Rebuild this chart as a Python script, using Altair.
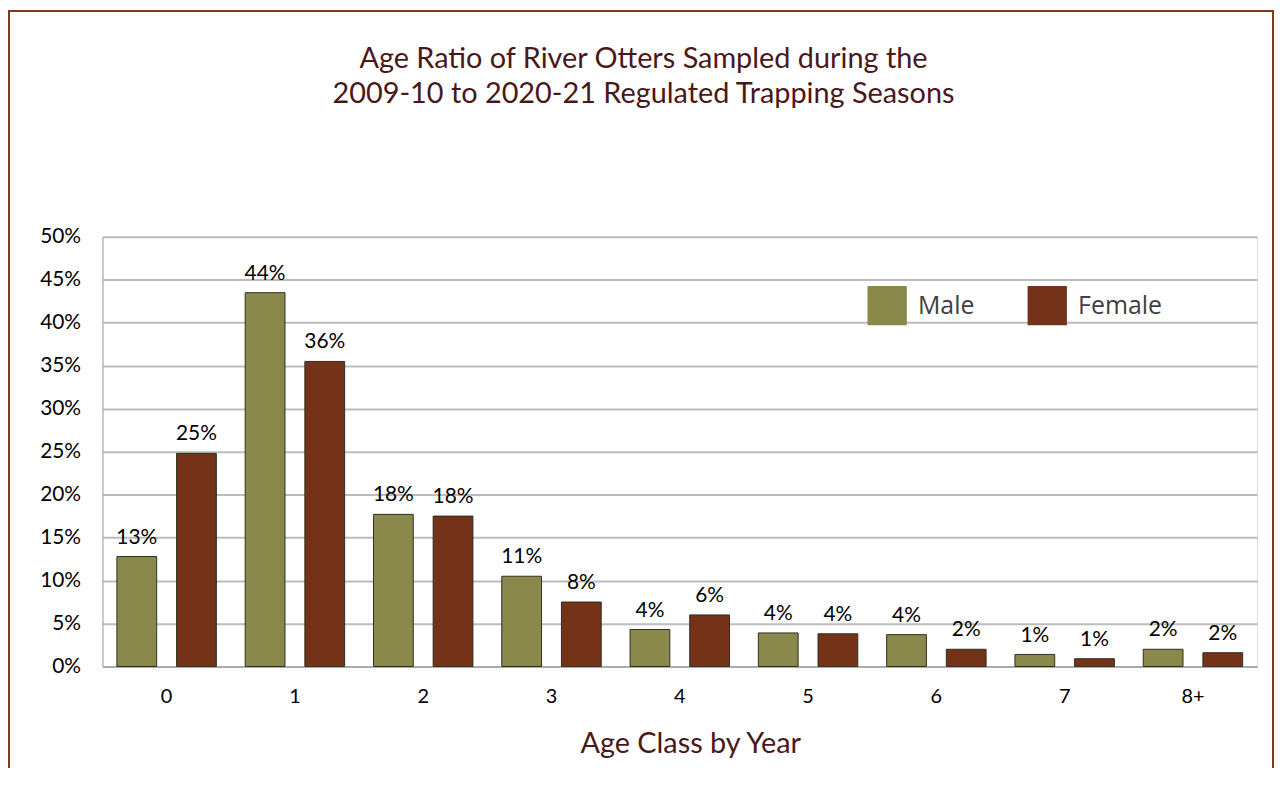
import altair as alt
import pandas as pd

ages = ["0", "1", "2", "3", "4", "5", "6", "7", "8+"]
male_pct = [12.8, 43.5, 17.7, 10.5, 4.3, 3.9, 3.7, 1.4, 2.0]
female_pct = [24.8, 35.5, 17.5, 7.5, 6.0, 3.8, 2.0, 0.9, 1.6]
male_labels = ["13%", "44%", "18%", "11%", "4%", "4%", "4%", "1%", "2%"]
female_labels = ["25%", "36%", "18%", "8%", "6%", "4%", "2%", "1%", "2%"]
sexes = ["Male", "Female"]
colors = ["#8a894b", "#743319"]
y_ticks = [0, 5, 10, 15, 20, 25, 30, 35, 40, 45, 50]
title_lines = ["Age Ratio of River Otters Sampled during the",
               "2009-10 to 2020-21 Regulated Trapping Seasons"]

rows = []
for a, m, f, ml, fl in zip(ages, male_pct, female_pct, male_labels, female_labels):
    rows.append({"age": a, "sex": "Male", "pct": m, "label": ml})
    rows.append({"age": a, "sex": "Female", "pct": f, "label": fl})
df = pd.DataFrame(rows)

W, H = 1161, 432
MAROON = "#4a1818"
HEAD = "Lato, Open Sans, sans-serif"
BODY = "Lato, Carlito, Liberation Sans, sans-serif"
LEG = "Open Sans, Lato, sans-serif"

x_enc = alt.X(
    "age:N",
    sort=ages,
    scale=alt.Scale(paddingInner=0, paddingOuter=0),
    axis=alt.Axis(
        title="Age Class by Year",
        labelAngle=0,
        labelFont=BODY,
        labelFontSize=20,
        labelColor="#000000",
        labelPadding=20,
        ticks=False,
        domainColor="#a6a6a6",
        domainWidth=1.5,
        titleFont=HEAD,
        titleFontSize=29,
        titleFontWeight="normal",
        titleColor=MAROON,
        titleX=591,
        titleY=87,
        titleBaseline="alphabetic",
        grid=False,
    ),
)
xo_enc = alt.XOffset(
    "sex:N",
    sort=sexes,
    scale=alt.Scale(paddingInner=1 / 3, paddingOuter=29 / 120),
)
y_enc = alt.Y(
    "pct:Q",
    scale=alt.Scale(domain=[0, 50], nice=False),
    axis=alt.Axis(
        title=None,
        values=y_ticks,
        labelExpr="datum.value + '%'",
        labelFont=BODY,
        labelFontSize=21,
        labelColor="#000000",
        labelPadding=22,
        ticks=False,
        domainColor="#a6a6a6",
        domainWidth=1,
        gridColor="#bcbcbc",
        gridWidth=2,
    ),
)

bars = alt.Chart(df).mark_bar(stroke="#2e2e22", strokeWidth=1).encode(
    x=x_enc,
    xOffset=xo_enc,
    y=y_enc,
    color=alt.Color(
        "sex:N",
        sort=sexes,
        scale=alt.Scale(domain=sexes, range=colors),
        legend=alt.Legend(
            title=None,
            orient="none",
            direction="horizontal",
            legendX=769,
            legendY=49,
            padding=0,
            symbolType="square",
            symbolSize=1560,
            symbolStrokeWidth=0,
            symbolOpacity=1,
            labelFont=LEG,
            labelFontSize=25,
            labelColor="#404040",
            labelOffset=11,
            columnPadding=53,
        ),
    ),
)

texts = alt.Chart(df).mark_text(
    baseline="alphabetic", dy=-13, font=BODY, fontSize=21, color="#000000"
).encode(
    x=alt.X("age:N", sort=ages),
    xOffset=alt.XOffset("sex:N", sort=sexes),
    y="pct:Q",
    text="label:N",
)

title = alt.Chart(pd.DataFrame({"k": [0]})).mark_text(
    font=HEAD, fontSize=29, color=MAROON, align="center",
    baseline="alphabetic", lineHeight=35,
).encode(
    x=alt.value(544),
    y=alt.value(-170),
    text=alt.value(title_lines),
)

frame = alt.Chart(pd.DataFrame({"k": [0]})).mark_rect(
    fillOpacity=0, stroke="#7b3b1e", strokeWidth=2
).encode(
    x=alt.value(-94),
    x2=alt.value(1177),
    y=alt.value(-227),
    y2=alt.value(600),
)

chart = (
    alt.layer(frame, bars, texts, title)
    .properties(
        width=W,
        height=H,
        autosize=alt.AutoSizeParams(type="none"),
        padding={"left": 95, "top": 228, "right": 18, "bottom": 100},
    )
    .configure_view(stroke=None)
    .configure(background="#ffffff")
)

chart.save("out.html", embed_options={"renderer": "svg", "actions": False})
